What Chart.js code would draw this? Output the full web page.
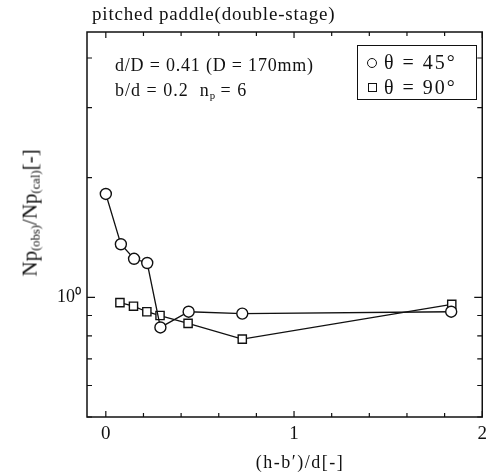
<!DOCTYPE html>
<html>
<head>
<meta charset="utf-8">
<script src="https://cdn.jsdelivr.net/npm/chart.js@4.4.0/dist/chart.umd.min.js"></script>
<style>
  body { margin: 0; background: #fff; }
  #wrap { position: relative; width: 493px; height: 474px; font-family: "Liberation Serif", "DejaVu Serif", serif; color: #111; }
  #wrap canvas { position: absolute; left: 0; top: 0; }
  .lbl { position: absolute; white-space: nowrap; line-height: 1; }
  .lbl sub { font-size: 60%; vertical-align: -0.25em; letter-spacing: 0; }
  #legendBox { position: absolute; left: 357px; top: 45px; width: 120px; height: 55px; border: 1.5px solid #111; box-sizing: border-box; }
  .sym { position: absolute; width: 9px; height: 9px; border: 1.3px solid #111; box-sizing: border-box; }
</style>
</head>
<body>
<div id="wrap">
  <canvas id="myChart" width="493" height="474"></canvas>
  <div class="lbl" style="left:92px; top:4px; font-size:19px; letter-spacing:0.8px;">pitched paddle(double-stage)</div>
  <div class="lbl" style="left:115px; top:56px; font-size:18px; letter-spacing:0.8px;">d/D = 0.41 (D = 170mm)</div>
  <div class="lbl" style="left:115px; top:81px; font-size:18px; letter-spacing:1px;">b/d = 0.2&nbsp; n<sub>p</sub> = 6</div>
  <div id="legendBox"></div>
  <div class="sym" style="left:367px; top:58px; border-radius:50%; width:10px; height:10px;"></div>
  <div class="lbl" style="left:384px; top:52px; font-size:20px; letter-spacing:2px;">θ = 45°</div>
  <div class="sym" style="left:368px; top:83px;"></div>
  <div class="lbl" style="left:384px; top:77px; font-size:20px; letter-spacing:2px;">θ = 90°</div>
  <div class="lbl" style="left:300px; top:453px; font-size:18px; letter-spacing:1.5px; transform: translateX(-50%);">(h-b′)/d[-]</div>
  <div class="lbl" style="left:31px; top:213px; font-size:21px; transform: translate(-50%,-50%) rotate(-90deg);">Np<sub>(obs)</sub>/Np<sub>(cal)</sub>[-]</div>
</div>
<script>
// theta = 45 deg (circles)
const circX = [0, 0.08, 0.15, 0.22, 0.29, 0.44, 0.725, 1.835];
const circY = [1.82, 1.36, 1.25, 1.22, 0.84, 0.92, 0.91, 0.92];
// theta = 90 deg (squares)
const sqX = [0.075, 0.147, 0.218, 0.288, 0.437, 0.725, 1.838];
const sqY = [0.97, 0.95, 0.92, 0.90, 0.86, 0.785, 0.96];

const xLabels = [0, 1, 2];
const xTicks = [0, 0.2, 0.4, 0.6, 0.8, 1, 1.2, 1.4, 1.6, 1.8, 2];
const yTicks = [0.5, 0.6, 0.7, 0.8, 0.9, 1, 2, 3, 4];

const toPts = (xs, ys) => xs.map((x, i) => ({ x: x, y: ys[i] }));

// frame + inward ticks on all four sides
const framePlugin = {
  id: 'frame',
  afterDraw(chart) {
    const { ctx, chartArea: a, scales } = chart;
    ctx.save();
    ctx.strokeStyle = '#111';
    ctx.lineWidth = 1.5;
    ctx.strokeRect(a.left, a.top, a.right - a.left, a.bottom - a.top);
    ctx.lineWidth = 1.2;
    ctx.beginPath();
    xTicks.forEach((v) => {
      const px = scales.x.getPixelForValue(v);
      const len = Number.isInteger(v) ? 6 : 4;
      ctx.moveTo(px, a.bottom); ctx.lineTo(px, a.bottom - len);
      ctx.moveTo(px, a.top); ctx.lineTo(px, a.top + len);
    });
    yTicks.forEach((v) => {
      const py = scales.y.getPixelForValue(v);
      const len = v === 1 ? 8 : 5;
      ctx.moveTo(a.left, py); ctx.lineTo(a.left + len, py);
      ctx.moveTo(a.right, py); ctx.lineTo(a.right - len, py);
    });
    ctx.stroke();
    ctx.restore();
  }
};

new Chart(document.getElementById('myChart'), {
  type: 'scatter',
  data: {
    datasets: [
      {
        label: 'θ=45°',
        data: toPts(circX, circY),
        showLine: true,
        borderColor: '#111',
        borderWidth: 1.3,
        pointStyle: 'circle',
        pointRadius: 5.5,
        pointBackgroundColor: '#fff',
        pointBorderColor: '#111',
        pointBorderWidth: 1.4
      },
      {
        label: 'θ=90°',
        data: toPts(sqX, sqY),
        showLine: true,
        borderColor: '#111',
        borderWidth: 1.3,
        pointStyle: 'rect',
        pointRadius: 5.8,
        pointBackgroundColor: '#fff',
        pointBorderColor: '#111',
        pointBorderWidth: 1.4
      }
    ]
  },
  options: {
    responsive: false,
    animation: false,
    layout: { padding: { left: 0, right: 5, top: 32, bottom: 0 } },
    plugins: { legend: { display: false }, tooltip: { enabled: false } },
    scales: {
      x: {
        type: 'linear',
        min: -0.1,
        max: 2.0,
        afterBuildTicks: (axis) => { axis.ticks = xLabels.map((v) => ({ value: v })); },
        afterFit: (axis) => { axis.height = 57; },
        grid: { display: false, drawTicks: false },
        border: { display: false },
        ticks: {
          color: '#111',
          padding: 6,
          font: { family: 'Liberation Serif', size: 19 },
          callback: (v) => String(v)
        }
      },
      y: {
        type: 'logarithmic',
        min: 0.5,
        max: 4.65,
        afterBuildTicks: (axis) => { axis.ticks = yTicks.map((v) => ({ value: v })); },
        afterFit: (axis) => { axis.width = 87; },
        grid: { display: false, drawTicks: false },
        border: { display: false },
        ticks: {
          color: '#111',
          padding: 6,
          font: { family: 'Liberation Serif', size: 18 },
          callback: (v) => (v === 1 ? '10⁰' : '')
        }
      }
    }
  },
  plugins: [framePlugin]
});
</script>
</body>
</html>
